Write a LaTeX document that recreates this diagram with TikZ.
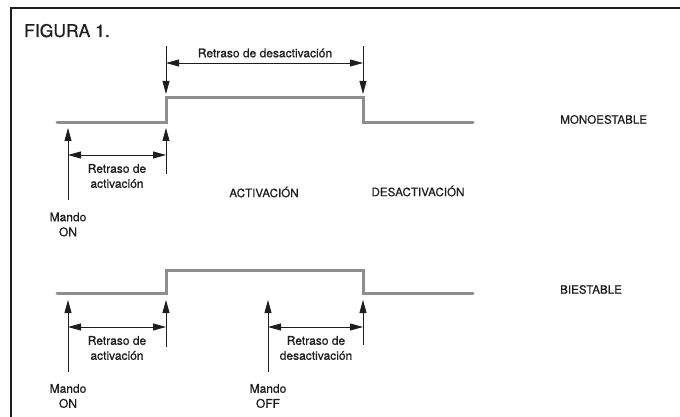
\documentclass[tikz,border=0pt]{standalone}
\usepackage{fontspec}
\setmainfont{TeX Gyre Heros}[FakeBold=0.6]
\usetikzlibrary{arrows.meta}
\usetikzlibrary{positioning}
\definecolor{gris}{RGB}{142,142,142}
\definecolor{tinta}{RGB}{30,30,30}
\tikzset{
  senal/.style={draw=gris, line width=3pt, line cap=round},
  flecha/.style={draw=tinta, line width=0.8pt, -{Triangle[length=13pt,width=7pt]}},
  cota/.style={draw=tinta, line width=0.8pt, {Triangle[length=13pt,width=7pt]}-{Triangle[length=13pt,width=7pt]}},
  texto/.style={text=tinta, inner sep=0pt, align=center, font=\fontsize{12}{15}\selectfont},
  modo/.style={text=tinta, inner sep=0pt, font=\fontsize{11.6}{13}\selectfont},
}

\begin{document}
\begin{tikzpicture}[x=1pt, y=-1pt]
			\useasboundingbox (0,0) rectangle (680,417);
			\clip (0,0) rectangle (680,417);
			% marco
			\coordinate (mb) at (11,430);
			\coordinate (mc) at (11,8);
			\coordinate (md) at (700,8);
			\draw[line width=1.3pt, draw=tinta] (mb) -- (mc) -- (md);
			\node[anchor=base west, text=tinta, inner sep=0pt, font=\fontsize{17.5}{20}\selectfont] (titulo) at (24,37) {FIGURA 1.};
			% monoestable
			\coordinate (m0) at (57,123);
			\coordinate (m1) at (166,123);
			\coordinate (m2) at (166,98);
			\coordinate (m3) at (363,98);
			\coordinate (m4) at (363,123);
			\coordinate (m5) at (473,123);
			\draw[senal] (m0) -- (m1) -- (m2) -- (m3) -- (m4) -- (m5);
			\coordinate (mA) at (166,46);
			\coordinate (mAt) at (166,94);
			\coordinate (mB) at (363,46);
			\coordinate (mBt) at (363,94);
			\draw[flecha] (mA) -- (mAt);
			\draw[flecha] (mB) -- (mBt);
			\coordinate (mda) at (166,63);
			\coordinate (mdb) at (363,63);
			\draw[cota] (mda) -- (mdb);
			\node[texto] (mRdes) at (265,53) {Retraso de desactivación};
			\coordinate (mon) at (68,200);
			\coordinate (mont) at (68,128);
			\coordinate (mact) at (166,174);
			\coordinate (mactt) at (166,128);
			\draw[flecha] (mon) -- (mont);
			\draw[flecha] (mact) -- (mactt);
			\coordinate (mca) at (68,155);
			\coordinate (mcb) at (166,155);
			\draw[cota] (mca) -- (mcb);
			\node[texto] (mRact) at (117,176) {Retraso de\\activación};
			\node[texto] (mMando) at (68,224.5) {Mando\\ON};
			\node[modo] (activ) at (264,192) {ACTIVACIÓN};
			\node[modo] (desactiv) at (418,191) {DESACTIVACIÓN};
			\node[modo, anchor=west] (mono) at (560,119.5) {MONOESTABLE};
			% biestable
			\coordinate (b0) at (57,293);
			\coordinate (b1) at (166,293);
			\coordinate (b2) at (166,270);
			\coordinate (b3) at (363,270);
			\coordinate (b4) at (363,293);
			\coordinate (b5) at (473,293);
			\draw[senal] (b0) -- (b1) -- (b2) -- (b3) -- (b4) -- (b5);
			\coordinate (bon) at (68,372);
			\coordinate (bont) at (68,300);
			\coordinate (bact) at (166,347);
			\coordinate (bactt) at (166,300);
			\coordinate (boff) at (268,372);
			\coordinate (bofft) at (268,300);
			\coordinate (bdes) at (363,345);
			\coordinate (bdest) at (363,300);
			\draw[flecha] (bon) -- (bont);
			\draw[flecha] (bact) -- (bactt);
			\draw[flecha] (boff) -- (bofft);
			\draw[flecha] (bdes) -- (bdest);
			\coordinate (bca) at (68,327);
			\coordinate (bcb) at (166,327);
			\coordinate (bcc) at (268,327);
			\coordinate (bcd) at (363,327);
			\draw[cota] (bca) -- (bcb);
			\draw[cota] (bcc) -- (bcd);
			\node[texto] (bRact) at (117,348) {Retraso de\\activación};
			\node[texto] (bRdes) at (316,348) {Retraso de\\desactivación};
			\node[texto] (bMandoOn) at (68,396) {Mando\\ON};
			\node[texto] (bMandoOff) at (268,396) {Mando\\OFF};
			\node[modo, anchor=west] (bi) at (560,289.5) {BIESTABLE};
		\end{tikzpicture}
\end{document}
